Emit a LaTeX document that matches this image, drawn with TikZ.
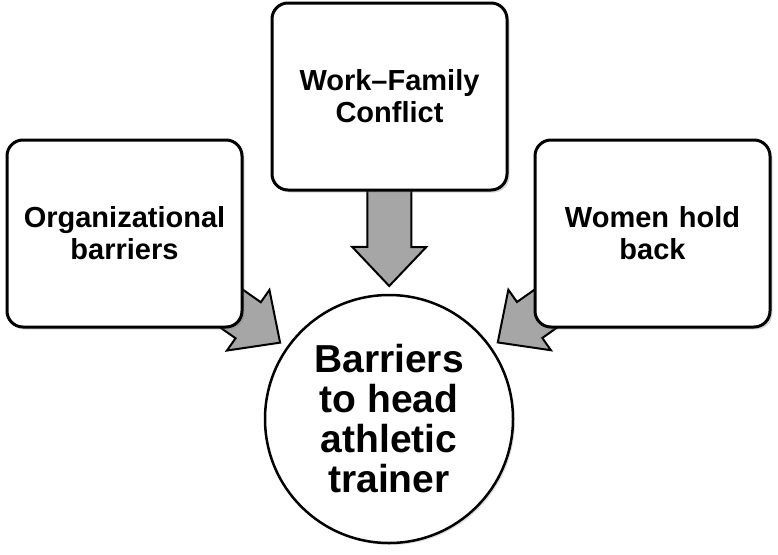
\documentclass[tikz,border=0pt]{standalone}
\usepackage{fontspec}
\setmainfont{Liberation Sans}
\usetikzlibrary{calc,shadows,backgrounds}

\newcommand{\fatarrow}[2]{%
  \coordinate (tip) at ($(#2.center)!133pt!(#1.center)$);
  \coordinate (hb) at ($(tip)!39pt!(#1.center)$);
  \draw[blockarr] ($(#1.center)!22pt!90:(tip)$) -- ($(hb)!22pt!90:(tip)$)
    -- ($(hb)!37pt!90:(tip)$) -- (tip) -- ($(hb)!37pt!-90:(tip)$)
    -- ($(hb)!22pt!-90:(tip)$) -- ($(#1.center)!22pt!-90:(tip)$) -- cycle;
}

\begin{document}
\begin{tikzpicture}[x=1pt,y=-1pt,
  box/.style={draw, line width=3pt, rounded corners=16pt, fill=white,
    minimum width=235pt, minimum height=187pt, inner sep=0pt,
    text width=225pt, align=center, font=\bfseries\fontsize{29}{32}\selectfont,
    drop shadow={shadow xshift=2.5pt, shadow yshift=-2.5pt, opacity=0.3}},
  hub/.style={circle, draw, line width=2.5pt, fill=white, minimum size=248pt,
    inner sep=0pt, align=center, font=\bfseries\fontsize{39}{40}\selectfont,
    drop shadow={shadow xshift=2pt, shadow yshift=-2pt, opacity=0.25}},
  blockarr/.style={draw, line width=2pt, fill=black!35, line join=miter}]
  \useasboundingbox (0,0) rectangle (778,554);
  \node[box] (org) at (124.5,233.5) {Organizational\\barriers};
  \node[box] (wfc) at (389.5,96.5) {Work--Family\\Conflict};
  \node[box] (hold) at (652.5,233.5) {Women hold\\back};
  \node[hub] (res) at (389,419) {Barriers\\to head\\athletic\\trainer};
  \begin{scope}[on background layer]
    \fatarrow{org}{res}
    \fatarrow{wfc}{res}
    \fatarrow{hold}{res}
  \end{scope}
\end{tikzpicture}
\end{document}
